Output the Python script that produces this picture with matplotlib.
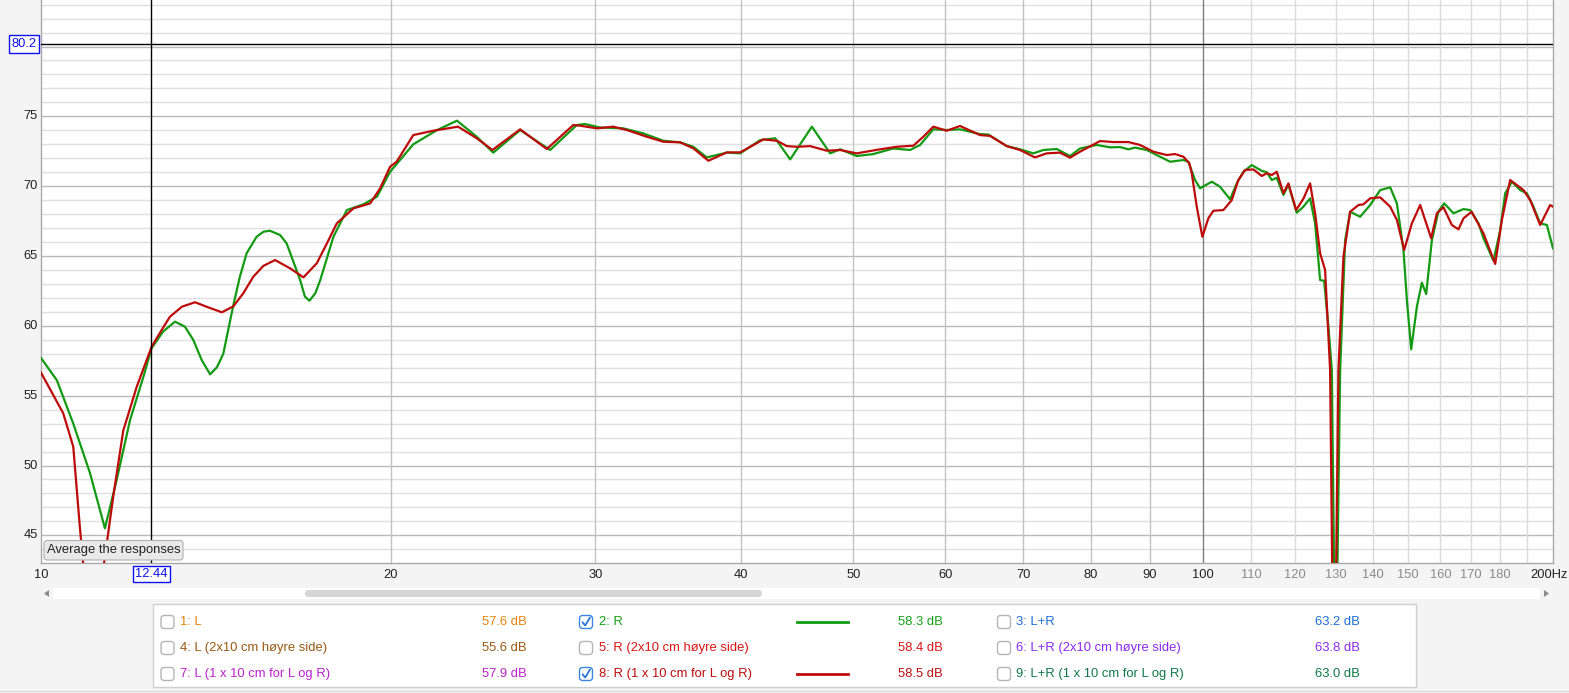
import matplotlib
matplotlib.use("Agg")
import matplotlib.pyplot as plt
import matplotlib.transforms as mtransforms
from matplotlib.patches import Rectangle, FancyBboxPatch, Polygon
from matplotlib.ticker import FixedLocator, NullFormatter

plt.rcParams['font.family'] = ['Liberation Sans', 'DejaVu Sans']

# ---------------- data ----------------
green_f = [10.00, 10.32, 10.66, 11.02, 11.35, 11.62, 11.93, 12.25, 12.45, 12.74,
           13.04, 13.30, 13.52, 13.75, 13.98, 14.17, 14.35, 14.64, 14.83, 15.03,
           15.33, 15.54, 15.74, 16.06, 16.27, 16.71, 16.87, 17.02, 17.22, 17.39,
           17.85, 18.33, 18.94, 19.46, 19.97, 20.91, 21.90, 22.80,
           23.71, 24.50, 25.84, 27.42, 28.91, 29.39, 30.27, 31.70, 32.98, 34.32,
           35.47, 36.42, 37.40, 38.91, 39.96, 41.58, 42.83, 44.12, 46.06, 47.76,
           48.71, 50.34, 52.02, 54.13, 55.95, 57.07, 58.59, 60.17, 61.77, 64.27,
           65.34, 67.76, 69.57, 71.43, 72.86, 74.82, 76.82, 78.36, 80.99, 83.16,
           84.82, 86.23, 87.38, 89.43, 91.22, 93.65, 96.16, 97.11, 98.41, 99.39,
           101.72, 103.40, 105.47, 106.88, 108.29, 110.11, 112.31, 113.43, 114.56, 115.70,
           117.23, 118.40, 120.38, 121.97, 123.60, 124.83, 126.08, 127.08, 128.17, 129.04,
           130.00, 131.18, 132.49, 133.81, 136.49, 139.22, 142.01, 144.85, 146.79, 148.72,
           149.73, 151.01, 152.72, 154.24, 155.56, 157.33, 159.40, 161.21, 164.21, 167.50,
           169.74, 172.56, 174.27, 177.76, 180.13, 181.92, 184.35, 187.41, 189.91, 192.41,
           194.98, 197.59, 200.00]
green_db = [57.70, 56.10, 53.00, 49.45, 45.50, 49.00, 53.26, 56.36, 58.40, 59.60,
            60.30, 59.94, 59.00, 57.55, 56.53, 57.03, 58.00, 61.50, 63.52, 65.20,
            66.38, 66.74, 66.81, 66.50, 65.90, 63.28, 62.09, 61.80, 62.33, 63.28,
            66.38, 68.29, 68.70, 69.25, 71.03, 73.00, 74.00, 74.69,
            73.54, 72.40, 74.02, 72.59, 74.38, 74.45, 74.20, 74.14, 73.78, 73.25,
            73.14, 72.82, 72.06, 72.40, 72.35, 73.30, 73.43, 71.92, 74.26, 72.35,
            72.64, 72.16, 72.30, 72.70, 72.59, 72.95, 74.07, 74.02, 74.07, 73.73,
            73.70, 72.87, 72.64, 72.35, 72.59, 72.66, 72.16, 72.70, 72.95, 72.78,
            72.80, 72.64, 72.76, 72.59, 72.23, 71.75, 71.87, 71.75, 70.44, 69.85,
            70.32, 69.96, 69.06, 70.20, 71.03, 71.51, 71.10, 71.00, 70.44, 70.60,
            69.37, 70.10, 68.10, 68.53, 69.13, 67.34, 63.28, 63.23, 59.94, 56.84,
            33.00, 56.84, 66.14, 68.17, 67.81, 68.65, 69.72, 69.92, 68.77, 65.43,
            61.85, 58.32, 61.37, 63.09, 62.28, 66.14, 68.20, 68.77, 68.06, 68.36,
            68.29, 67.34, 66.27, 64.66, 66.86, 69.49, 70.32, 69.72, 69.49, 68.53,
            67.34, 67.22, 65.55]

red_f = [10.00, 10.45, 10.66, 10.80, 10.87, 11.10, 11.33, 11.54, 11.77, 12.09,
         12.45, 12.70, 12.91, 13.22, 13.57, 13.88, 14.31, 14.64, 14.93, 15.23,
         15.54, 15.90, 16.38, 16.82, 17.27, 17.62,
         17.97, 18.57, 19.20, 19.58, 19.97, 20.23, 20.91, 21.75, 22.85, 23.71,
         24.46, 25.84, 27.24, 28.71, 29.10, 30.08, 31.08, 31.92, 33.21, 34.32,
         35.47, 36.42, 37.52, 38.91, 39.96, 41.85, 42.97, 43.83, 44.71, 45.90,
         47.44, 48.71, 50.34, 52.72, 54.49, 56.32, 57.44, 58.59, 60.17, 61.77,
         64.27, 65.56, 67.76, 69.57, 71.67, 73.35, 75.31, 76.82, 78.36, 81.52,
         83.70, 86.23, 88.25, 90.61, 93.04, 94.59, 96.16, 97.30, 97.77, 98.74,
         99.84, 101.04, 102.04, 104.08, 105.83, 107.22, 108.66, 110.46, 112.31, 113.43,
         114.56, 115.70, 117.23, 118.40, 120.22, 121.97, 123.60, 124.83, 126.08, 127.33,
         128.60, 129.62, 130.74, 132.04, 133.81, 136.03, 137.38, 139.22, 142.01, 144.85,
         146.79, 148.93, 151.22, 153.73, 157.11, 158.89, 160.98, 163.68, 165.84, 167.50,
         170.22, 174.27, 178.36, 180.74, 183.73, 186.19, 188.64, 191.17, 194.98, 196.92,
         198.87, 200.00]
red_db = [56.65, 53.74, 51.35, 45.60, 43.00, 40.00, 43.00, 47.80, 52.50, 55.65,
          58.50, 59.70, 60.65, 61.37, 61.69, 61.37, 60.97, 61.40, 62.33, 63.52,
          64.30, 64.71, 64.12, 63.47, 64.48, 65.90,
          67.34, 68.41, 68.77, 69.85, 71.39, 71.75, 73.66, 73.97, 74.26, 73.43,
          72.59, 74.07, 72.66, 74.38, 74.33, 74.14, 74.26, 74.02, 73.54, 73.18,
          73.14, 72.71, 71.82, 72.42, 72.42, 73.35, 73.25, 72.87, 72.82, 72.87,
          72.54, 72.59, 72.35, 72.64, 72.82, 72.90, 73.54, 74.26, 73.97, 74.31,
          73.66, 73.60, 72.87, 72.59, 72.06, 72.35, 72.40, 72.04, 72.47, 73.23,
          73.16, 73.16, 72.95, 72.47, 72.23, 72.30, 72.11, 71.64, 70.92, 68.53,
          66.38, 67.70, 68.24, 68.29, 69.00, 70.44, 71.16, 71.20, 70.73, 70.92,
          70.80, 71.03, 69.49, 70.20, 68.29, 69.10, 70.20, 68.06, 65.19, 64.00,
          56.84, 30.00, 56.84, 64.95, 68.17, 68.65, 68.70, 69.13, 69.20, 68.53,
          67.58, 65.43, 67.34, 68.65, 66.27, 68.06, 68.49, 67.22, 66.91, 67.70,
          68.17, 66.62, 64.43, 67.58, 70.44, 70.08, 69.72, 69.00, 67.22, 67.93,
          68.65, 68.53]

y_ticks = [45, 50, 55, 60, 65, 70, 75]
x_major = [10, 20, 30, 40, 50, 60, 70, 80, 90, 100]
x_minor = [110, 120, 130, 140, 150, 160, 170, 180, 190]
x_labels_dark = ['10', '20', '30', '40', '50', '60', '70', '80', '90', '100']
x_labels_gray = ['110', '120', '130', '140', '150', '160', '170', '180']
cursor_f = 12.44
cursor_db = 80.2

legend_rows = [
    [("1: L", "57.6 dB", "#e8820e", False), ("2: R", "58.3 dB", "#16a016", True), ("3: L+R", "63.2 dB", "#1d6fd6", False)],
    [("4: L (2x10 cm høyre side)", "55.6 dB", "#9a5a14", False), ("5: R (2x10 cm høyre side)", "58.4 dB", "#d81616", False), ("6: L+R (2x10 cm høyre side)", "63.8 dB", "#8a2cf0", False)],
    [("7: L (1 x 10 cm for L og R)", "57.9 dB", "#bb22cc", False), ("8: R (1 x 10 cm for L og R)", "58.5 dB", "#bb0e0e", True), ("9: L+R (1 x 10 cm for L og R)", "63.0 dB", "#10784a", False)],
]

GREEN = "#139a13"
RED = "#bd0b0b"

# ---------------- figure ----------------
W, H = 1569, 693
fig = plt.figure(figsize=(W / 100, H / 100), dpi=100)
fig.patch.set_facecolor("#f4f4f4")

L, R, T, B = 41, 1553, 0, 563
ax = fig.add_axes([L / W, 1 - B / H, (R - L) / W, (B - T) / H])
ax.set_facecolor("white")
ax.set_xscale("log")
ax.set_xlim(10, 200)
ax.set_ylim(43.02, 83.33)

# grid
for v in range(44, 84):
    major = (v % 5 == 0)
    ax.axhline(v, color="#b9b9b9" if major else "#e0e0e0", lw=1.0, zorder=1)
for f in x_major[1:]:
    ax.axvline(f, color="#7f7f7f" if f == 100 else "#c2c2c2", lw=1.0, zorder=1)
for f in x_minor:
    ax.axvline(f, color="#dadada", lw=1.0, zorder=1)

ax.plot(red_f, red_db, color=RED, lw=1.6, zorder=4, solid_joinstyle="round")
ax.plot(green_f, green_db, color=GREEN, lw=1.6, zorder=3, solid_joinstyle="round")

# cursors
ax.axvline(cursor_f, color="black", lw=1.0, zorder=5)
ax.axhline(cursor_db, color="black", lw=1.0, zorder=5)

ax.xaxis.set_major_locator(FixedLocator([]))
ax.xaxis.set_minor_locator(FixedLocator([]))
ax.yaxis.set_major_locator(FixedLocator([]))
ax.yaxis.set_minor_locator(FixedLocator([]))
ax.xaxis.set_minor_formatter(NullFormatter())
for s in ["left", "bottom", "right"]:
    ax.spines[s].set_color("#a9a9a9")
    ax.spines[s].set_linewidth(1.0)
ax.spines["top"].set_visible(False)

# tick labels via data transforms
ytrans = mtransforms.blended_transform_factory(fig.transFigure, ax.transData)
xtrans = mtransforms.blended_transform_factory(ax.transData, fig.transFigure)
for v in y_ticks:
    fig.text(38 / W, v, str(v), transform=ytrans, ha="right", va="center",
             fontsize=9.3, color="#222222")
for f, lab in zip(x_major, x_labels_dark):
    fig.text(f, 1 - 575 / H, lab, transform=xtrans, ha="center", va="center",
             fontsize=9.3, color="#222222")
for f, lab in zip(x_minor, x_labels_gray):
    fig.text(f, 1 - 575 / H, lab, transform=xtrans, ha="center", va="center",
             fontsize=9.3, color="#8a8a8a")
fig.text(1 - 1 / W, 1 - 575 / H, "200Hz", ha="right", va="center", fontsize=9.3,
         color="#222222")

# cursor value boxes
fig.text(cursor_f, 1 - 574 / H, "12.44", transform=xtrans, ha="center", va="center",
         fontsize=9.3, color="#1010ee",
         bbox=dict(boxstyle="square,pad=0.18", fc="white", ec="#1010ee", lw=1.0))
fig.text(24 / W, cursor_db, "80.2", transform=ytrans, ha="center", va="center",
         fontsize=9.3, color="#1010ee",
         bbox=dict(boxstyle="square,pad=0.22", fc="white", ec="#1010ee", lw=1.0))

# ---------------- overlay for UI bits ----------------
ov = fig.add_axes([0, 0, 1, 1], facecolor="none")
ov.set_xlim(0, W)
ov.set_ylim(H, 0)
ov.axis("off")

# "Average the responses" button
ov.add_patch(FancyBboxPatch((44, 540.5), 139, 19.5, boxstyle="round,pad=0,rounding_size=3",
                            fc="#e9e9e9", ec="#b0b0b0", lw=0.8, zorder=6))
ov.text(113.5, 550.5, "Average the responses", ha="center", va="center",
        fontsize=9.4, color="#222222", zorder=7)

# scrollbar
ov.add_patch(Rectangle((53, 588), 1487, 11, fc="white", ec="none"))
ov.add_patch(FancyBboxPatch((305, 590), 457, 7, boxstyle="round,pad=0,rounding_size=3.5",
                            fc="#d5d5d5", ec="none"))
ov.add_patch(Polygon([[44, 593.5], [49, 590], [49, 597]], closed=True, fc="#8c8c8c", ec="none"))
ov.add_patch(Polygon([[1549, 593.5], [1544, 590], [1544, 597]], closed=True, fc="#8c8c8c", ec="none"))

# legend panel
ov.add_patch(Rectangle((153, 604), 1263, 83, fc="white", ec="#cfcfcf", lw=1.0))
ov.plot([0, W], [690.5, 690.5], color="#dddddd", lw=1.0)
row_y = [622, 648, 674]
cols = [(167.5, 180, 527), (586, 599, 943), (1004, 1016, 1360)]
for ri, row in enumerate(legend_rows):
    y = row_y[ri]
    for ci, (label, val, col, checked) in enumerate(row):
        cx, tx, vx = cols[ci]
        ec = "#3d86e6" if checked else "#b5b5b5"
        ov.add_patch(FancyBboxPatch((cx - 6.5, y - 6.5), 13, 13,
                                    boxstyle="round,pad=0,rounding_size=3",
                                    fc="white", ec=ec, lw=1.0))
        if checked:
            ov.plot([cx - 3.5, cx - 0.8, cx + 4], [y + 0.3, y + 3.5, y - 4.5],
                    color="#2a74dd", lw=1.3, solid_capstyle="round")
        ov.text(tx, y, label, ha="left", va="center", fontsize=9.4, color=col)
        ov.text(vx, y, val, ha="right", va="center", fontsize=9.4, color=col)
        if ci == 1 and checked:
            ov.plot([797, 848], [y, y], color=GREEN if ri == 0 else RED, lw=2.0)

fig.savefig("out.png", dpi=100, facecolor=fig.get_facecolor())
